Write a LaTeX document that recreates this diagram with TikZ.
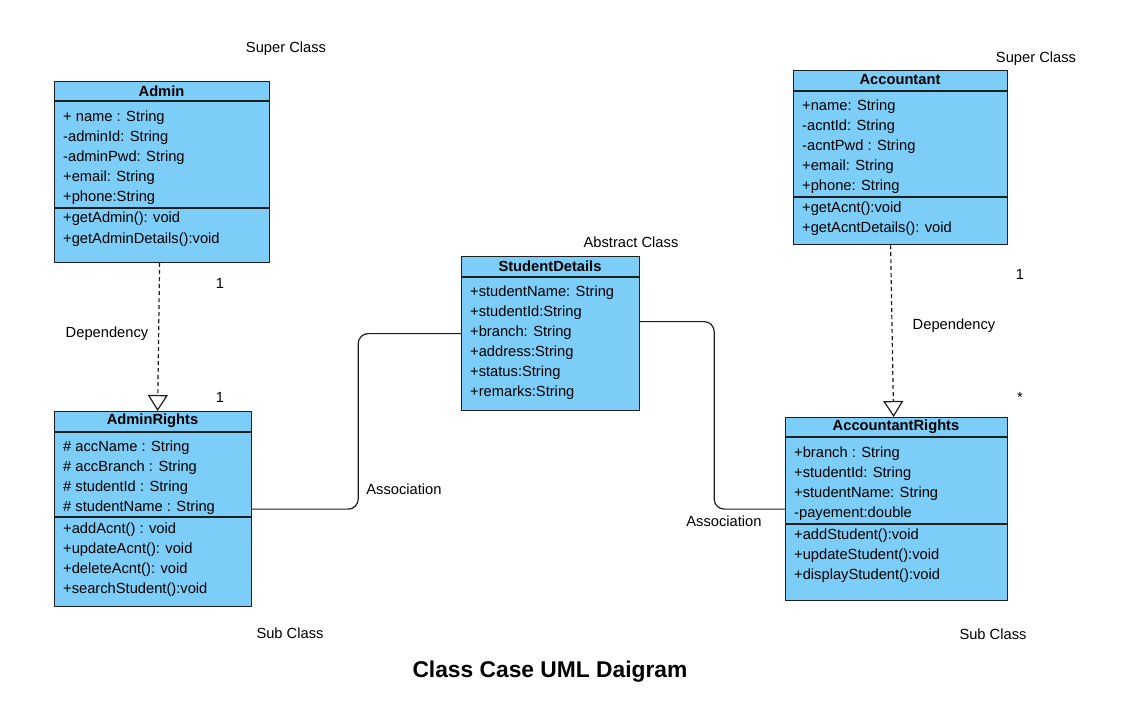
\documentclass[tikz,border=0pt]{standalone}
\usepackage{fontspec}
\setmainfont{Liberation Sans}
\usetikzlibrary{arrows.meta}
\definecolor{cls}{RGB}{124,205,247}
\definecolor{edge}{RGB}{30,30,30}
\begin{document}
\begin{tikzpicture}[x=1pt,y=-1pt,
  box/.style={draw=edge, fill=cls, line width=1.2pt, inner sep=0pt, anchor=north west},
  sep/.style={draw=edge, line width=1.2pt},
  row/.style={anchor=base west, inner sep=0pt, font=\fontsize{14.7}{16}\selectfont},
  head/.style={inner sep=0pt, font=\bfseries\fontsize{14.7}{16}\selectfont},
  lbl/.style={inner sep=0pt, font=\fontsize{14.7}{16}\selectfont},
  dep/.style={draw=edge, dash pattern=on 4pt off 3pt, line width=1.2pt, -{Triangle[open,length=16pt,width=20pt,line width=1.2pt]}},
  assoc/.style={draw=edge, line width=1.2pt, rounded corners=10pt}]
\useasboundingbox (0,0) rectangle (1130,705);
\fill[white] (0,0) rectangle (1130,705);

% ---------- Admin ----------
\node[box, minimum width=215pt, minimum height=181pt] (admin) at (54,81) {};
\draw[sep] (54,101) -- (269,101);
\draw[sep] (54,208) -- (269,208);
\node[head] (adminH) at (161.5,91) {Admin};
\node[row] (a1) at (63,121) {+ name : String};
\node[row] (a2) at (63,141) {-adminId: String};
\node[row] (a3) at (63,161) {-adminPwd: String};
\node[row] (a4) at (63,181) {+email: String};
\node[row] (a5) at (63,201) {+phone:String};
\node[row] (a6) at (63,222) {+getAdmin(): void};
\node[row] (a7) at (63,243) {+getAdminDetails():void};

% ---------- Accountant ----------
\node[box, minimum width=214pt, minimum height=174pt] (acc) at (793,70) {};
\draw[sep] (793,91) -- (1007,91);
\draw[sep] (793,197) -- (1007,197);
\node[head] (accH) at (900,80) {Accountant};
\node[row] (c1) at (802,110) {+name: String};
\node[row] (c2) at (802,130) {-acntId: String};
\node[row] (c3) at (802,150) {-acntPwd : String};
\node[row] (c4) at (802,170) {+email: String};
\node[row] (c5) at (802,190) {+phone: String};
\node[row] (c6) at (802,212) {+getAcnt():void};
\node[row] (c7) at (802,232) {+getAcntDetails(): void};

% ---------- StudentDetails ----------
\node[box, minimum width=178pt, minimum height=154pt] (sd) at (461,256) {};
\draw[sep] (461,277) -- (639,277);
\node[head] (sdH) at (550,266) {StudentDetails};
\node[row] (s1) at (470,296) {+studentName: String};
\node[row] (s2) at (470,316) {+studentId:String};
\node[row] (s3) at (470,336) {+branch: String};
\node[row] (s4) at (470,356) {+address:String};
\node[row] (s5) at (470,376) {+status:String};
\node[row] (s6) at (470,396) {+remarks:String};

% ---------- AdminRights ----------
\node[box, minimum width=197pt, minimum height=195pt] (adr) at (54,411) {};
\draw[sep] (54,432) -- (251,432);
\draw[sep] (54,517) -- (251,517);
\node[head] (adrH) at (152.5,421) {AdminRights};
\node[row] (r1) at (63,451) {\# accName : String};
\node[row] (r2) at (63,471) {\# accBranch : String};
\node[row] (r3) at (63,491) {\# studentId : String};
\node[row] (r4) at (63,511) {\# studentName : String};
\node[row] (r5) at (63,533) {+addAcnt() : void};
\node[row] (r6) at (63,553) {+updateAcnt(): void};
\node[row] (r7) at (63,573) {+deleteAcnt(): void};
\node[row] (r8) at (63,593) {+searchStudent():void};

% ---------- AccountantRights ----------
\node[box, minimum width=222pt, minimum height=183pt] (accr) at (785,417) {};
\draw[sep] (785,437) -- (1007,437);
\draw[sep] (785,524) -- (1007,524);
\node[head] (accrH) at (896,427) {AccountantRights};
\node[row] (t1) at (794,457) {+branch : String};
\node[row] (t2) at (794,477) {+studentId: String};
\node[row] (t3) at (794,497) {+studentName: String};
\node[row] (t4) at (794,517) {-payement:double};
\node[row] (t5) at (794,539) {+addStudent():void};
\node[row] (t6) at (794,559) {+updateStudent():void};
\node[row] (t7) at (794,579) {+displayStudent():void};

% ---------- connectors ----------
\draw[dep] ([xshift=-2.5pt]admin.south) -- ([xshift=4.5pt]adr.north);
\draw[dep] ([xshift=-10pt]acc.south) -- ([xshift=-3pt]accr.north);
\draw[assoc] (adr.east) -- ++(106,0) |- (sd.west);
\draw[assoc] ([yshift=12pt]sd.east) -- ++(74,0) |- (accr.west);

% ---------- labels ----------
\node[lbl] (l1) at (286,49) {Super Class};
\node[lbl] (l2) at (1036,59) {Super Class};
\node[lbl] (l3) at (631,242) {Abstract Class};
\node[lbl] (l4) at (220,283) {1};
\node[lbl] (l5) at (107,334) {Dependency};
\node[lbl] (l6) at (220,397) {1};
\node[lbl] (l7) at (404,489) {Association};
\node[lbl] (l8) at (724,521) {Association};
\node[lbl] (l9) at (1020,274) {1};
\node[lbl] (l10) at (954,326) {Dependency};
\node[lbl] (l11) at (1020,397) {*};
\node[lbl] (l12) at (290,633) {Sub Class};
\node[lbl] (l13) at (993,634) {Sub Class};
\node[inner sep=0pt, font=\bfseries\fontsize{22.8}{26}\selectfont] (title) at (550,672) {Class Case UML Daigram};
\end{tikzpicture}
\end{document}
